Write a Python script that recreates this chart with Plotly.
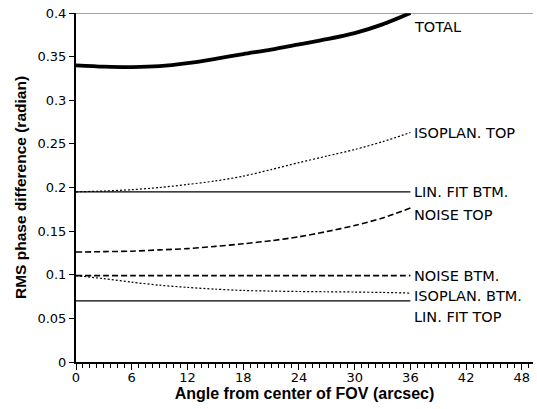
import plotly.graph_objects as go

angle = [0, 3, 6, 9, 12, 15, 18, 21, 24, 27, 30, 33, 36]
total = [0.340, 0.3385, 0.338, 0.339, 0.3425, 0.3475, 0.353, 0.358, 0.364, 0.370, 0.377, 0.387, 0.400]
isoplan_top = [0.195, 0.196, 0.1975, 0.200, 0.2035, 0.2075, 0.213, 0.2205, 0.2285, 0.236, 0.2435, 0.2525, 0.263]
linfit_btm = [0.195] * 13
noise_top = [0.126, 0.1265, 0.127, 0.1285, 0.130, 0.1325, 0.1355, 0.139, 0.1435, 0.1495, 0.1565, 0.165, 0.1765]
noise_btm = [0.099] * 13
isoplan_btm = [0.099, 0.0955, 0.0915, 0.088, 0.0855, 0.0835, 0.082, 0.0813, 0.0808, 0.0805, 0.0802, 0.0797, 0.079]
linfit_top = [0.070] * 13

series = [
    ("TOTAL", total, dict(width=3.8, dash="solid"), -14),
    ("ISOPLAN. TOP", isoplan_top, dict(width=1.2, dash="2px,2px"), 0),
    ("LIN. FIT BTM.", linfit_btm, dict(width=1.3, dash="solid"), 0),
    ("NOISE TOP", noise_top, dict(width=1.6, dash="6px,3px"), -7),
    ("NOISE BTM.", noise_btm, dict(width=1.6, dash="6px,3px"), 0),
    ("ISOPLAN. BTM.", isoplan_btm, dict(width=1.2, dash="2px,2px"), -3),
    ("LIN. FIT TOP", linfit_top, dict(width=1.3, dash="solid"), -16),
]

LABEL_FONT = "DejaVu Sans"
TICK_FONT = "DejaVu Sans"
TITLE_FONT = "Liberation Sans"

fig = go.Figure()
annotations = []
for name, vals, ls, shift in series:
    fig.add_trace(go.Scatter(x=angle, y=vals, mode="lines", name=name,
                             line=dict(color="black", shape="spline", smoothing=0.8, **ls),
                             cliponaxis=False))
    annotations.append(dict(x=angle[-1], y=vals[-1], text=name, showarrow=False,
                            xanchor="left", yanchor="middle", xshift=2, yshift=shift,
                            font=dict(family=LABEL_FONT, size=14.5, color="black")))

fig.add_shape(type="line", xref="paper", x0=0, x1=1, yref="y", y0=0.4, y1=0.4,
              line=dict(color="#444", width=1))

fig.update_layout(
    width=537, height=409,
    margin=dict(l=76, r=4, t=13, b=47, autoexpand=False),
    paper_bgcolor="white", plot_bgcolor="white",
    showlegend=False,
    annotations=annotations,
    font=dict(family=TICK_FONT, size=13, color="black"),
    xaxis=dict(range=[0, 49.2], tick0=0, dtick=6, ticks="outside", ticklen=6, tickwidth=1.3,
               tickcolor="black", showline=True, linecolor="black", linewidth=2,
               showgrid=False, zeroline=False, automargin=False, ticklabelstandoff=-4,
               minor=dict(dtick=0.75, ticks="outside", ticklen=4, tickcolor="black", tickwidth=1),
               tickfont=dict(family=TICK_FONT, size=13, color="black"),
               title=dict(text="<b>Angle from center of FOV (arcsec)</b>", standoff=0,
                          font=dict(family=TITLE_FONT, size=16))),
    yaxis=dict(range=[0, 0.4], dtick=0.05, ticks="outside", ticklen=5, tickwidth=1.3,
               tickcolor="black", showline=True, linecolor="black", linewidth=2,
               showgrid=False, zeroline=False, automargin=False,
               tickfont=dict(family=TICK_FONT, size=13, color="black"),
               title=dict(text="<b>RMS phase difference (radian)</b>", standoff=7,
                          font=dict(family=TITLE_FONT, size=15.5))),
)

fig.write_html("out.html", config={"displayModeBar": False},
               post_script="document.body.style.margin='0';document.body.style.overflow='hidden';")
